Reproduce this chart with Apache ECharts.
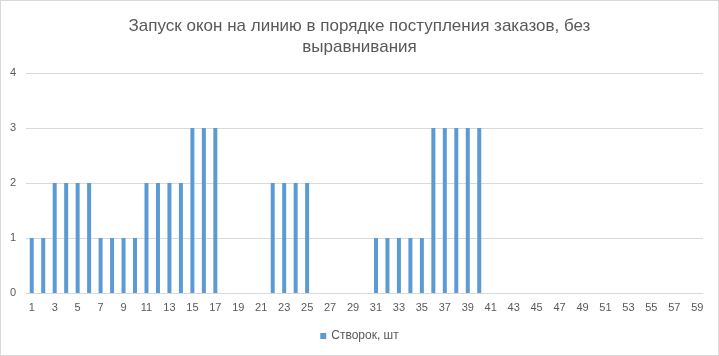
<!DOCTYPE html>
<html>
<head>
<meta charset="utf-8">
<script src="https://cdn.jsdelivr.net/npm/echarts@6/dist/echarts.min.js"></script>
<style>
html,body{margin:0;padding:0;background:#fff;}
#c{width:717px;height:354px;border:1px solid #d9d9d9;}
</style>
</head>
<body>
<div id="c"></div>
<script>
const titleText = "Запуск окон на линию в порядке поступления заказов, без\nвыравнивания";
const seriesName = "Створок, шт";
const categories = [];
for (let i = 1; i <= 59; i++) categories.push(String(i));
const values = [
  1,1,2,2,2,2,1,1,1,1,
  2,2,2,2,3,3,3,0,0,0,
  0,2,2,2,2,0,0,0,0,0,
  1,1,1,1,1,3,3,3,3,3,
  0,0,0,0,0,0,0,0,0,0,
  0,0,0,0,0,0,0,0,0
];
const yTicks = [0,1,2,3,4];

const chart = echarts.init(document.getElementById('c'));
chart.setOption({
  animation: false,
  title: {
    text: titleText,
    left: 'center',
    top: 10,
    textStyle: {fontFamily: 'Liberation Sans', fontSize: 17, fontWeight: 'normal', color: '#595959', lineHeight: 21}
  },
  legend: {
    bottom: 8,
    left: 'center',
    icon: 'rect',
    itemWidth: 6,
    itemHeight: 6,
    itemGap: 6,
    textStyle: {fontFamily: 'Liberation Sans', fontSize: 12, color: '#595959'},
    data: [seriesName]
  },
  grid: {left: 25, right: 15, top: 72, bottom: 62},
  xAxis: {
    type: 'category',
    data: categories,
    axisLine: {lineStyle: {color: '#d9d9d9'}},
    axisTick: {show: false},
    axisLabel: {interval: 1, color: '#595959', fontFamily: 'Liberation Sans', fontSize: 11, margin: 9}
  },
  yAxis: {
    type: 'value',
    min: yTicks[0],
    max: yTicks[yTicks.length-1],
    interval: 1,
    axisLine: {show: false},
    axisTick: {show: false},
    axisLabel: {color: '#595959', fontFamily: 'Liberation Sans', fontSize: 11, margin: 10},
    splitLine: {lineStyle: {color: '#d9d9d9'}}
  },
  series: [{
    name: seriesName,
    type: 'bar',
    data: values,
    barWidth: 4,
    itemStyle: {color: '#5b9bd5'}
  }]
});
</script>
</body>
</html>
